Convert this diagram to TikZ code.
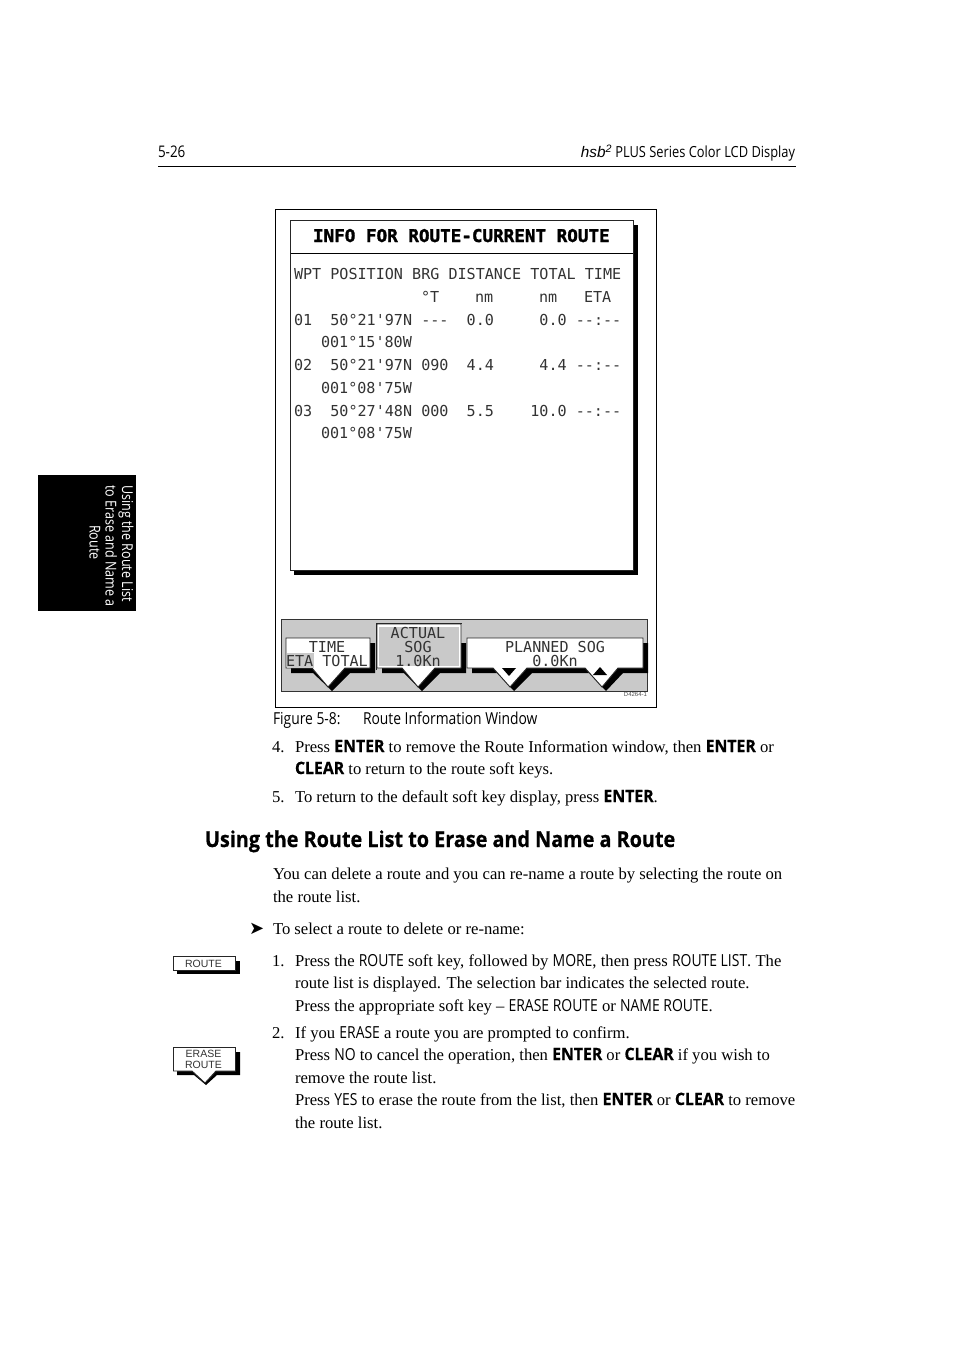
\documentclass[tikz,border=0pt]{standalone}
\usepackage{fontspec}
\setmainfont{Liberation Serif}
\newfontfamily\cond[FakeStretch=0.84]{Open Sans}
\newfontfamily\condb[FakeStretch=0.93,FakeBold=0.6]{Open Sans Bold}
\newfontfamily\head[FakeStretch=0.90,FakeBold=0.6]{Open Sans Bold}
\newfontfamily\lcd{DejaVu Sans Mono}
\newfontfamily\lcdb[FakeBold=1.6]{DejaVu Sans Mono Bold}
\newfontfamily\arial{Liberation Sans}
\newfontfamily\dingo{DejaVu Sans}
\newcounter{tn}
\newcommand{\TT}[3][]{\stepcounter{tn}\node[txt,#1] (t\thetn) at (#2) {#3};}
\newcommand{\KK}[1]{{\condb\fontsize{17}{17}\selectfont #1}}
\newcommand{\SK}[1]{{\cond\fontsize{16.6}{16.6}\selectfont #1}}
\tikzset{
  txt/.style={anchor=base west,inner sep=0pt,outer sep=0pt,text height=0pt,text depth=0pt},
  body/.style={font=\fontsize{16.65}{16.65}\selectfont},
  lcdt/.style={font=\lcd\fontsize{15.1}{15.1}\selectfont,text=black!80},
  lcdc/.style={lcdt,anchor=base},
  tabt/.style={rotate=-90,text=white,font=\cond\fontsize{15}{15}\selectfont},
  keybox/.style={draw=black!85,line width=0.9pt,fill=white},
  shadow/.style={fill=black,draw=none}
}
\begin{document}
\begin{tikzpicture}[x=1pt,y=-1pt]
\useasboundingbox (0,0) rectangle (954,1351);
% page header
\TT{158,158}{\cond\fontsize{16}{16}\selectfont 5-26}
\TT[anchor=base east]{795,158}{\cond\fontsize{15.3}{15.3}\selectfont {\arial\itshape hsb\textsuperscript{2}} PLUS Series Color LCD Display}
\draw[line width=0.8pt] (158,166.5) -- (796,166.5);
% side tab
\fill[black] (38,475) rectangle (136,611);
\TT[tabt]{122,485}{Using the Route List}
\TT[tabt]{105.5,485}{to Erase and Name a}
\TT[tabt]{89.5,525}{Route}
% figure frame
\draw[line width=0.8pt] (275.5,209.5) rectangle (656.5,707.5);
\fill[shadow] (294,225) -- (638,225) -- (638,575) -- (294,575) -- cycle;
\draw[keybox] (290.5,220.5) rectangle (633,570.5);
\draw[line width=0.9pt] (290.5,253) -- (633,253);
\TT[font=\lcdb\fontsize{17.6}{17.6}\selectfont]{313,242}{INFO~FOR~ROUTE-CURRENT~ROUTE}
\TT[lcdt]{294,279}{WPT~POSITION~BRG~DISTANCE~TOTAL~TIME}
\TT[lcdt]{421,302}{°T}
\TT[lcdt]{475,302}{nm}
\TT[lcdt]{539,302}{nm}
\TT[lcdt]{584,302}{ETA}
\TT[lcdt]{294,325}{01~~50°21'97N~---~~0.0~~~~~0.0~--:--}
\TT[lcdt]{321,347}{001°15'80W}
\TT[lcdt]{294,370}{02~~50°21'97N~090~~4.4~~~~~4.4~--:--}
\TT[lcdt]{321,393}{001°08'75W}
\TT[lcdt]{294,416}{03~~50°27'48N~000~~5.5~~~~10.0~--:--}
\TT[lcdt]{321,438}{001°08'75W}
% soft key panel
\draw[fill=black!21,draw=black!80,line width=0.8pt] (281.5,619.5) rectangle (647.5,691.5);
% TIME key
\fill[shadow] (291,643) -- (375,643) -- (375,673) -- (350,673) -- (332,691) -- (313,673) -- (291,673) -- cycle;
\draw[keybox] (286,638) -- (370,638) -- (370,668) -- (345,668) -- (328,687) -- (312,668) -- (286,668) -- cycle;
\fill[black!21] (286.5,653) rectangle (314,667.5);
\TT[lcdc]{327,652}{TIME}
\TT[lcdt]{286,666}{ETA~TOTAL}
% ACTUAL SOG key
\fill[shadow] (382,643) -- (466,643) -- (466,673) -- (440,673) -- (422,691) -- (404,673) -- (382,673) -- cycle;
\draw[keybox] (377,624) -- (461,624) -- (461,668) -- (435,668) -- (418,687) -- (402,668) -- (377,668) -- cycle;
\fill[black!21] (379,626.5) rectangle (459,666);
\draw[black!85,line width=0.8pt] (376.5,670) -- (376.5,623.5) -- (461.5,623.5);
\TT[lcdc]{418,638}{ACTUAL}
\TT[lcdc]{418,652}{SOG}
\TT[lcdc]{418,666}{1.0Kn}
% PLANNED SOG key
\fill[shadow] (472,643) -- (648,643) -- (648,673) -- (623,673) -- (606,691) -- (589,673) -- (532,673) -- (514,691) -- (497,673) -- (472,673) -- cycle;
\draw[keybox] (467,638) -- (643,638) -- (643,668) -- (618,668) -- (602,687) -- (585,668) -- (527,668) -- (510,687) -- (493,668) -- (467,668) -- cycle;
\fill[black] (502,668) -- (516,668) -- (509,676) -- cycle;
\fill[black] (593,675) -- (607,675) -- (600,667) -- cycle;
\TT[lcdc]{555,652}{PLANNED~SOG}
\TT[lcdc]{555,666}{0.0Kn}
\TT[anchor=base east,font=\arial\fontsize{6}{6}\selectfont,text=black!70]{647,696}{D4264-1}
% caption
\TT{273,724}{\cond\fontsize{16.5}{16.5}\selectfont Figure 5-8:}
\TT{363,724}{\cond\fontsize{16.5}{16.5}\selectfont Route Information Window}
% steps 4,5
\TT[body]{272,752}{4.}
\TT[body]{295,752}{Press \KK{ENTER} to remove the Route Information window, then \KK{ENTER} or}
\TT[body]{295,774}{\KK{CLEAR} to return to the route soft keys.}
\TT[body]{272,802}{5.}
\TT[body]{295,802}{To return to the default soft key display, press \KK{ENTER}.}
% heading
\TT{205,847}{\head\fontsize{22}{22}\selectfont Using the Route List to Erase and Name a Route}
% paragraph
\TT[body]{273,879}{You can delete a route and you can re-name a route by selecting the route on}
\TT[body]{273,902}{the route list.}
\TT{249,934}{\dingo\fontsize{18}{18}\selectfont ➤}
\TT[body]{273,934}{To select a route to delete or re-name:}
\TT[body]{272,966}{1.}
\TT[body]{295,966}{Press the \SK{ROUTE} soft key, followed by \SK{MORE}, then press \SK{ROUTE LIST}. The}
\TT[body]{295,988}{route list is displayed. The selection bar indicates the selected route.}
\TT[body]{295,1011}{Press the appropriate soft key -- \SK{ERASE ROUTE} or \SK{NAME ROUTE}.}
\TT[body]{272,1038}{2.}
\TT[body]{295,1038}{If you \SK{ERASE} a route you are prompted to confirm.}
\TT[body]{295,1060}{Press \SK{NO} to cancel the operation, then \KK{ENTER} or \KK{CLEAR} if you wish to}
\TT[body]{295,1083}{remove the route list.}
\TT[body]{295,1105}{Press \SK{YES} to erase the route from the list, then \KK{ENTER} or \KK{CLEAR} to remove}
\TT[body]{295,1128}{the route list.}
% side icons
\fill[shadow] (177,961) rectangle (240,974);
\draw[keybox] (173.5,956.5) rectangle (235.5,970.5);
\TT[anchor=base,font=\arial\fontsize{10.5}{10.5}\selectfont,text=black!80]{203.5,967.5}{ROUTE}
\fill[shadow] (177,1052) -- (240,1052) -- (240,1075) -- (217,1075) -- (206,1085) -- (194,1075) -- (177,1075) -- cycle;
\draw[keybox] (173.5,1047.5) -- (235.5,1047.5) -- (235.5,1071) -- (216,1071) -- (205,1083) -- (192,1071) -- (173.5,1071) -- cycle;
\TT[anchor=base,font=\arial\fontsize{10.5}{10.5}\selectfont,text=black!80]{203.5,1057}{ERASE}
\TT[anchor=base,font=\arial\fontsize{10.5}{10.5}\selectfont,text=black!80]{203.5,1068}{ROUTE}
\end{tikzpicture}
\end{document}
